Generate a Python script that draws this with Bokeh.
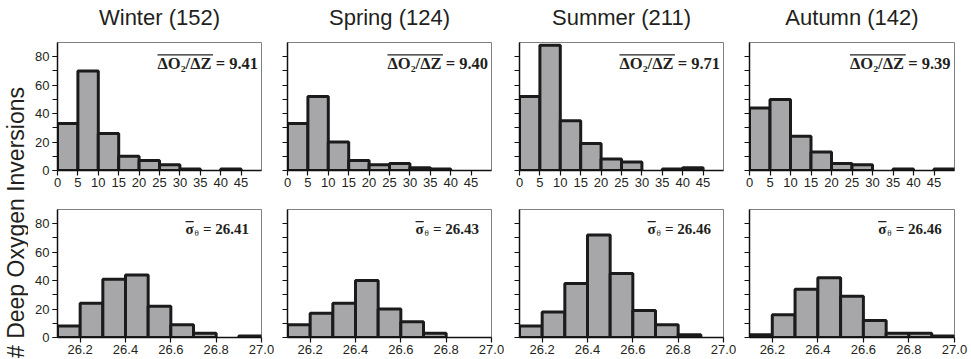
import math
from bokeh.plotting import figure
from bokeh.layouts import row, column
from bokeh.models import (Label, BoxAnnotation, FixedTicker,
                          Range1d, PrintfTickFormatter, ColumnDataSource)
from bokeh.embed import file_html
from bokeh.resources import INLINE

# ---------------- data ----------------
seasons = ["Winter", "Spring", "Summer", "Autumn"]
season_totals = [152, 124, 211, 142]

grad_edges = [0, 5, 10, 15, 20, 25, 30, 35, 40, 45, 50]
grad_winter = [33, 70, 26, 10, 7, 4, 1, 0, 1, 0]
grad_spring = [33, 52, 20, 7, 4, 5, 2, 1, 0, 0]
grad_summer = [52, 88, 35, 19, 8, 6, 0, 1, 2, 0]
grad_autumn = [44, 50, 24, 13, 5, 4, 0, 1, 0, 1]
grad_means = [9.41, 9.40, 9.71, 9.39]
grad_ticks = [0, 5, 10, 15, 20, 25, 30, 35, 40, 45]

sig_edges = [26.1, 26.2, 26.3, 26.4, 26.5, 26.6, 26.7, 26.8, 26.9, 27.0]
sig_winter = [8, 24, 41, 44, 22, 9, 3, 0, 1]
sig_spring = [9, 17, 24, 40, 20, 11, 3, 0, 0]
sig_summer = [8, 18, 38, 72, 45, 19, 9, 2, 0]
sig_autumn = [2, 16, 34, 42, 29, 12, 3, 3, 1]
sig_means = [26.41, 26.43, 26.46, 26.46]
sig_ticks = [26.2, 26.4, 26.6, 26.8, 27.0]

count_range = (0, 90)
count_ticks = [0, 20, 40, 60, 80]
count_minor_ticks = [0, 10, 20, 30, 40, 50, 60, 70, 80]
y_label = "# Deep Oxygen Inversions"

grad_counts = [grad_winter, grad_spring, grad_summer, grad_autumn]
sig_counts = [sig_winter, sig_spring, sig_summer, sig_autumn]

# ---------------- style ----------------
BAR_FILL = "#a7a7a9"
BAR_LINE = "#1b1b1b"
TXT = "#231f20"
SANS = "Liberation Sans"
SERIF = "Liberation Serif"

LAB_W = 28
HEAD_H = 34
frame_w = [204, 204, 204, 205]
b_left = [29, 13, 15, 13]
b_right = [13, 13, 13, 17]
FRAME_H = 128


def make_panel(i, edges, counts, xr, xticks, fmt, top_row):
    lefts, rights, tops = [], [], []
    for k, c in enumerate(counts):
        if c > 0:
            lefts.append(edges[k])
            rights.append(edges[k + 1])
            tops.append(c)
    src = ColumnDataSource(dict(left=lefts, right=rights, top=tops,
                                bottom=[0] * len(tops)))
    bt = 8 if top_row else 17
    bb = 22
    p = figure(width=b_left[i] + frame_w[i] + b_right[i], height=bt + FRAME_H + bb,
               x_range=Range1d(*xr), y_range=Range1d(*count_range),
               output_backend="svg", toolbar_location=None,
               min_border_left=b_left[i], min_border_right=b_right[i],
               min_border_top=bt, min_border_bottom=bb)
    p.quad(left="left", right="right", top="top", bottom="bottom", source=src,
           fill_color=BAR_FILL, line_color=BAR_LINE, line_width=3)
    p.xgrid.visible = False
    p.ygrid.visible = False
    p.outline_line_color = "#808080"
    p.outline_line_width = 1
    p.background_fill_color = "white"
    p.border_fill_color = "white"

    xa = p.xaxis[0]
    xa.ticker = FixedTicker(ticks=xticks)
    if fmt:
        xa.formatter = PrintfTickFormatter(format=fmt)
    xa.axis_line_color = "#111111"
    xa.axis_line_width = 1.5
    xa.major_tick_line_color = "#111111"
    xa.major_tick_line_width = 1.2
    xa.major_tick_in = 0
    xa.major_tick_out = 5
    xa.minor_tick_line_color = None
    xa.major_label_standoff = 2
    xa.major_label_text_font = SANS
    xa.major_label_text_font_size = "13px"
    xa.major_label_text_color = TXT

    ya = p.yaxis[0]
    if i == 0:
        ya.ticker = FixedTicker(ticks=count_ticks, minor_ticks=count_minor_ticks)
    else:
        ya.ticker = FixedTicker(ticks=[], minor_ticks=count_minor_ticks)
    ya.axis_line_color = "#111111"
    ya.axis_line_width = 1.5
    ya.major_tick_line_color = "#111111"
    ya.major_tick_line_width = 1.2
    ya.minor_tick_line_color = "#111111"
    ya.minor_tick_line_width = 1.2
    ya.major_tick_in = 0
    ya.major_tick_out = 5
    ya.minor_tick_in = 0
    ya.minor_tick_out = 5
    ya.major_label_standoff = 3
    ya.major_label_text_font = SANS
    ya.major_label_text_color = TXT
    ya.major_label_text_font_size = "13px"
    return p


top_figs, bot_figs = [], []
for i in range(4):
    # --- gradient histogram ---
    p = make_panel(i, grad_edges, grad_counts[i], (0, 50), grad_ticks, None, True)
    x0 = 24.5
    p.add_layout(Label(x=x0, y=75.0, text=f"ΔO₂/ΔZ = {grad_means[i]:.2f}",
                       text_font=SERIF, text_font_style="bold", text_font_size="16.5px",
                       text_color=TXT, text_align="left", text_baseline="alphabetic"))
    p.add_layout(BoxAnnotation(left=x0, right=x0 + 13.6, bottom=80.8, top=81.8,
                               fill_color=TXT, fill_alpha=1, line_alpha=0))
    top_figs.append(p)

    # --- density histogram ---
    q = make_panel(i, sig_edges, sig_counts[i], (26.1, 27.0), sig_ticks, "%.1f", False)
    s0 = 26.665
    sy = 76.3
    q.add_layout(Label(x=s0, y=sy, text="σ", text_font=SERIF, text_font_style="bold",
                       text_font_size="15px", text_color=TXT, text_align="left",
                       text_baseline="alphabetic"))
    q.add_layout(Label(x=s0, y=sy, x_offset=9, y_offset=-4.5, text="θ", text_font=SERIF,
                       text_font_size="9px", text_color=TXT, text_align="left",
                       text_baseline="alphabetic"))
    q.add_layout(Label(x=s0, y=sy, x_offset=17.5, text=f"= {sig_means[i]:.2f}",
                       text_font=SERIF, text_font_style="bold", text_font_size="15px",
                       text_color=TXT, text_align="left", text_baseline="alphabetic"))
    q.add_layout(BoxAnnotation(left=s0, right=s0 + 0.036, bottom=81.0, top=82.0,
                               fill_color=TXT, fill_alpha=1, line_alpha=0))
    bot_figs.append(q)

# --- header with season titles ---
head_w = sum(b_left) + sum(frame_w) + sum(b_right)
head = figure(width=head_w, height=HEAD_H, x_range=Range1d(0, head_w),
              y_range=Range1d(0, HEAD_H), output_backend="svg", toolbar_location=None,
              min_border_left=0, min_border_right=0, min_border_top=0, min_border_bottom=0)
head.axis.visible = False
head.grid.visible = False
head.outline_line_color = None
xpos = 0
for i in range(4):
    center = xpos + b_left[i] + frame_w[i] / 2
    head.add_layout(Label(x=center, y=17, text=f"{seasons[i]} ({season_totals[i]})",
                          text_font=SANS, text_font_size="22px", text_color=TXT,
                          text_align="center", text_baseline="middle"))
    xpos += b_left[i] + frame_w[i] + b_right[i]

# --- common y-axis label ---
lab = figure(width=LAB_W, height=359, x_range=Range1d(0, LAB_W), y_range=Range1d(0, 359),
             output_backend="svg", toolbar_location=None,
             min_border_left=0, min_border_right=0, min_border_top=0, min_border_bottom=0)
lab.axis.visible = False
lab.grid.visible = False
lab.outline_line_color = None
lab.add_layout(Label(x=15, y=137, text=y_label, angle=math.pi / 2,
                     text_font=SANS, text_font_size="23px", text_color=TXT,
                     text_align="center", text_baseline="middle"))

layout = row(lab, column(head, row(*top_figs), row(*bot_figs)))
layout.spacing = 0

open("out.html", "w").write(file_html(layout, INLINE))
